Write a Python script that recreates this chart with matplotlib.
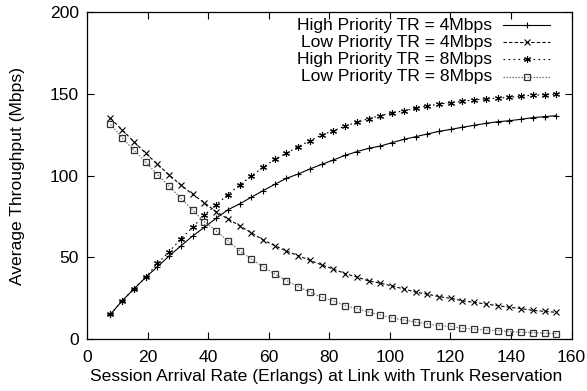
import numpy as np
import matplotlib
matplotlib.use("Agg")
import matplotlib.pyplot as plt
from matplotlib.lines import Line2D

plt.rcParams['font.family'] = ['Liberation Sans', 'DejaVu Sans']

# Session arrival rates (Erlangs): 39 points, n*155/40 for n=2..40
arrival_rate = np.arange(2, 41) * 155.0 / 40.0

high_tr4 = [15.1, 23.4, 30.6, 37.7, 44.2, 50.8, 56.9, 63.0, 68.3, 73.8,
            79.0, 82.6, 86.7, 90.7, 94.6, 98.3, 100.9, 104.0, 106.8, 109.5,
            112.3, 114.6, 116.6, 118.0, 120.1, 122.1, 123.7, 125.4, 127.0, 128.2,
            129.5, 130.7, 131.9, 132.9, 133.5, 134.4, 135.4, 136.0, 136.6]
low_tr4 = [135.0, 127.8, 120.7, 113.6, 107.0, 100.3, 94.2, 88.5, 83.4, 77.9,
           73.5, 69.3, 65.0, 60.6, 57.1, 53.8, 51.0, 48.1, 45.3, 42.8,
           40.0, 37.9, 35.5, 34.2, 32.4, 30.6, 28.7, 27.4, 25.9, 24.9,
           23.4, 22.4, 21.4, 20.4, 19.4, 18.6, 17.5, 16.9, 16.3]
high_tr8 = [15.1, 23.4, 30.6, 37.7, 46.3, 53.4, 61.2, 68.3, 75.8, 82.0,
            88.3, 94.2, 99.7, 105.0, 109.9, 113.6, 117.6, 121.3, 124.8, 127.4,
            130.3, 132.5, 134.8, 136.6, 138.2, 139.6, 141.1, 142.5, 143.7, 144.5,
            145.4, 146.2, 146.8, 147.4, 147.8, 148.6, 149.0, 149.4, 149.8]
low_tr8 = [131.3, 123.1, 115.4, 108.3, 100.5, 93.4, 86.1, 78.9, 71.7, 66.2,
           60.1, 54.0, 48.9, 44.2, 39.8, 35.7, 32.0, 28.7, 25.5, 23.2,
           20.4, 18.6, 16.5, 14.7, 12.8, 11.6, 10.4, 9.2, 8.2, 7.7,
           6.5, 6.1, 5.5, 5.1, 4.5, 4.1, 3.9, 3.5, 3.3]

labels = ["High Priority TR = 4Mbps", "Low Priority TR = 4Mbps",
          "High Priority TR = 8Mbps", "Low Priority TR = 8Mbps"]
x_ticks = [0, 20, 40, 60, 80, 100, 120, 140, 160]
y_ticks = [0, 50, 100, 150, 200]

FS = 12.6

fig = plt.figure(figsize=(5.87, 3.91), dpi=100)
ax = fig.add_axes([87/587, 52/391, (571.5-87)/587, 327/391])

styles = [
    dict(color='black', linestyle='-', marker='+', ms=5, mew=0.8, lw=0.8),
    dict(color='black', linestyle=(0, (3, 2)), marker='x', ms=4.5, mew=0.8, lw=0.8),
    dict(color='black', linestyle=(0, (1.5, 3)), marker=(6, 2, 0), ms=5, mew=0.8, lw=0.8),
    dict(color='#777777', linestyle=(0, (1.2, 1.2)), marker='s', ms=4.5, mew=0.9,
         mec='#333333', mfc='none', lw=0.9),
]
series = [high_tr4, low_tr4, high_tr8, low_tr8]
for ys, st in zip(series, styles):
    ax.plot(arrival_rate, ys, **st)

ax.set_xlim(0, 160)
ax.set_ylim(0, 200)
ax.set_xticks(x_ticks)
ax.set_yticks(y_ticks)
ax.tick_params(direction='in', length=5, width=0.8, top=True, right=True,
               labelsize=FS)
ax.tick_params(axis='x', pad=8)
ax.tick_params(axis='y', pad=6)
for s in ax.spines.values():
    s.set_linewidth(0.9)

ax.set_xlabel("Session Arrival Rate (Erlangs) at Link with Trunk Reservation",
              fontsize=FS, va='center')
ax.xaxis.set_label_coords(0.493, (339 - 377) / 327)
ax.set_ylabel("Average Throughput (Mbps)", fontsize=FS, va='center')
ax.yaxis.set_label_coords((18 - 87) / 484.5, 0.5)

# gnuplot-style legend: right-aligned text with sample line to the right
leg_y = [0.960, 0.907, 0.855, 0.802]
for lab, st, yy in zip(labels, styles, leg_y):
    ax.text(0.836, yy, lab, transform=ax.transAxes, ha='right', va='center', fontsize=FS)
    stl = dict(st)
    mk = stl.pop('marker'); ms = stl.pop('ms'); mew = stl.pop('mew')
    mec = stl.pop('mec', stl['color']); mfc = stl.pop('mfc', stl['color'])
    ax.add_line(Line2D([0.859, 0.956], [yy, yy], transform=ax.transAxes, **stl))
    ax.add_line(Line2D([0.908], [yy], transform=ax.transAxes, marker=mk, ms=ms,
                       mew=mew, mec=mec, mfc=mfc, linestyle='none'))

fig.savefig("out.png", dpi=100)
